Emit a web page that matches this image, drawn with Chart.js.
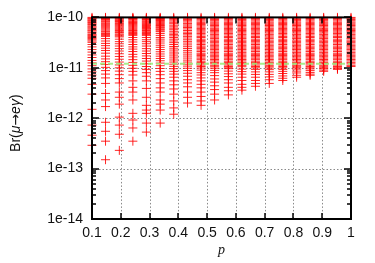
<!DOCTYPE html>
<html>
<head>
<meta charset="utf-8">
<script src="https://cdn.jsdelivr.net/npm/chart.js@4/dist/chart.umd.min.js"></script>
<style>
  html, body { margin: 0; background: #fff; }
  canvas { display: block; }
</style>
</head>
<body>
<canvas id="grafico-br" width="375" height="263"></canvas>
<script>
// valores de p (uma coluna de pontos por valor)
const pValues = [0.1, 0.147, 0.195, 0.242, 0.289, 0.337, 0.384, 0.432, 0.479, 0.526,
  0.574, 0.621, 0.668, 0.716, 0.763, 0.811, 0.858, 0.905, 0.953, 1.0];

const col01 = [1e-10, 9.6e-11, 9.3e-11, 8.9e-11, 8.6e-11, 8.2e-11, 7.9e-11, 7.5e-11, 7.2e-11, 6.8e-11, 6.5e-11, 6.2e-11, 5.9e-11, 5.6e-11, 5.4e-11, 5.1e-11, 4.9e-11, 4.6e-11, 4.4e-11, 4.2e-11, 4e-11, 3.8e-11, 3.6e-11, 3.4e-11, 3.2e-11, 2.9e-11, 2.6e-11, 2.3e-11, 2.05e-11, 1.8e-11, 1.6e-11, 1.4e-11, 1.25e-11, 1.1e-11, 9.5e-12, 8.3e-12, 7.2e-12, 6.2e-12, 4.7e-12, 3e-12, 1.5e-12, 7.3e-13, 4.6e-13, 2.9e-13];
const col02 = [1e-10, 9.7e-11, 9.5e-11, 9.1e-11, 8.8e-11, 8.4e-11, 8.1e-11, 7.7e-11, 7.4e-11, 7.1e-11, 6.8e-11, 6.5e-11, 6.2e-11, 5.9e-11, 5.6e-11, 5.3e-11, 5.1e-11, 4.8e-11, 4.6e-11, 4.4e-11, 4.2e-11, 3.8e-11, 3.4e-11, 3.05e-11, 2.75e-11, 2.45e-11, 2.2e-11, 1.95e-11, 1.7e-11, 1.5e-11, 1.32e-11, 1.16e-11, 1.02e-11, 8.8e-12, 7.5e-12, 6.3e-12, 4.9e-12, 3.1e-12, 2.3e-12, 1.7e-12, 8.3e-13, 5.5e-13, 3.5e-13, 1.5e-13];
const col03 = [1e-10, 9.7e-11, 9.4e-11, 9e-11, 8.7e-11, 8.3e-11, 8e-11, 7.6e-11, 7.3e-11, 7e-11, 6.7e-11, 6.4e-11, 6.1e-11, 5.8e-11, 5.5e-11, 5.2e-11, 5e-11, 4.7e-11, 4.5e-11, 4.3e-11, 4.1e-11, 3.7e-11, 3.3e-11, 3e-11, 2.7e-11, 2.4e-11, 2.15e-11, 1.9e-11, 1.68e-11, 1.48e-11, 1.3e-11, 1.14e-11, 1e-11, 8.6e-12, 7.3e-12, 6.1e-12, 5e-12, 3.3e-12, 2.6e-12, 1.9e-12, 1.05e-12, 7.3e-13, 4.8e-13, 2.3e-13];
const col04 = [1e-10, 9.7e-11, 9.5e-11, 9.2e-11, 8.9e-11, 8.5e-11, 8.2e-11, 7.9e-11, 7.6e-11, 7.3e-11, 7e-11, 6.7e-11, 6.4e-11, 6.1e-11, 5.8e-11, 5.5e-11, 5.3e-11, 5e-11, 4.8e-11, 4.6e-11, 4.4e-11, 4e-11, 3.6e-11, 3.25e-11, 2.9e-11, 2.6e-11, 2.35e-11, 2.1e-11, 1.85e-11, 1.65e-11, 1.45e-11, 1.28e-11, 1.12e-11, 9.8e-12, 8.5e-12, 7.2e-12, 5.5e-12, 4.1e-12, 3.3e-12, 2.3e-12, 1.25e-12, 9.2e-13, 6.4e-13, 3.5e-13];
const col05 = [1e-10, 9.7e-11, 9.4e-11, 9.1e-11, 8.8e-11, 8.4e-11, 8.1e-11, 7.8e-11, 7.5e-11, 7.2e-11, 6.9e-11, 6.6e-11, 6.3e-11, 6e-11, 5.8e-11, 5.5e-11, 5.3e-11, 5e-11, 4.8e-11, 4.6e-11, 4.4e-11, 4e-11, 3.6e-11, 3.3e-11, 3e-11, 2.7e-11, 2.4e-11, 2.15e-11, 1.92e-11, 1.72e-11, 1.53e-11, 1.36e-11, 1.2e-11, 1.06e-11, 9.3e-12, 8e-12, 6.8e-12, 5.5e-12, 3.9e-12, 2.6e-12, 1.8e-12, 1.45e-12, 1.25e-12, 8e-13, 5.3e-13];
const col06 = [1e-10, 9.7e-11, 9.5e-11, 9.2e-11, 9e-11, 8.7e-11, 8.4e-11, 8.1e-11, 7.8e-11, 7.5e-11, 7.2e-11, 6.9e-11, 6.7e-11, 6.4e-11, 6.2e-11, 5.9e-11, 5.7e-11, 5.4e-11, 5.2e-11, 4.8e-11, 4.4e-11, 4e-11, 3.7e-11, 3.4e-11, 3.1e-11, 2.8e-11, 2.55e-11, 2.3e-11, 2.08e-11, 1.88e-11, 1.7e-11, 1.53e-11, 1.38e-11, 1.24e-11, 1.1e-11, 9.7e-12, 8.5e-12, 7.3e-12, 6.1e-12, 5e-12, 4e-12, 3.3e-12, 2.3e-12, 1.9e-12, 1.45e-12, 8e-13];
const col07 = [1e-10, 9.5e-11, 9e-11, 8.5e-11, 8e-11, 7.5e-11, 7e-11, 6.5e-11, 6.1e-11, 5.7e-11, 5.3e-11, 4.9e-11, 4.6e-11, 4.3e-11, 4e-11, 3.7e-11, 3.4e-11, 3.15e-11, 2.9e-11, 2.65e-11, 2.45e-11, 2.25e-11, 2.05e-11, 1.88e-11, 1.72e-11, 1.57e-11, 1.43e-11, 1.3e-11, 1.18e-11, 1.07e-11, 9.6e-12, 8.5e-12, 7.5e-12, 6.5e-12, 5.5e-12, 4.6e-12, 3.8e-12, 3e-12, 2.2e-12, 1.6e-12, 1.2e-12];
const col08 = [1e-10, 9.6e-11, 9.1e-11, 8.6e-11, 8.1e-11, 7.6e-11, 7.1e-11, 6.7e-11, 6.3e-11, 5.9e-11, 5.5e-11, 5.1e-11, 4.8e-11, 4.5e-11, 4.2e-11, 3.9e-11, 3.6e-11, 3.35e-11, 3.1e-11, 2.85e-11, 2.62e-11, 2.42e-11, 2.22e-11, 2.04e-11, 1.87e-11, 1.71e-11, 1.56e-11, 1.42e-11, 1.3e-11, 1.18e-11, 1.08e-11, 9.8e-12, 8.8e-12, 7.8e-12, 6.8e-12, 5.8e-12, 5e-12, 4.2e-12, 3.3e-12, 2.6e-12, 2e-12];
const col09 = [1e-10, 9.5e-11, 9e-11, 8.5e-11, 8e-11, 7.6e-11, 7.2e-11, 6.8e-11, 6.4e-11, 6e-11, 5.7e-11, 5.4e-11, 5.1e-11, 4.8e-11, 4.5e-11, 4.2e-11, 4e-11, 3.7e-11, 3.5e-11, 3.3e-11, 3.1e-11, 2.9e-11, 2.7e-11, 2.55e-11, 2.4e-11, 2.25e-11, 2.1e-11, 1.95e-11, 1.85e-11, 1.75e-11, 1.65e-11, 1.55e-11, 1.45e-11, 1.35e-11, 1.27e-11, 1.2e-11, 1.13e-11, 1.06e-11, 9.9e-12, 9e-12, 8e-12, 7.2e-12, 6.3e-12, 5.5e-12, 4.7e-12, 4e-12, 3.3e-12, 2.7e-12, 2.2e-12, 1.8e-12];
const col10 = [1e-10, 9.6e-11, 9.1e-11, 8.6e-11, 8.1e-11, 7.7e-11, 7.3e-11, 6.9e-11, 6.5e-11, 6.1e-11, 5.8e-11, 5.5e-11, 5.2e-11, 4.9e-11, 4.6e-11, 4.3e-11, 4.05e-11, 3.8e-11, 3.55e-11, 3.35e-11, 3.15e-11, 2.95e-11, 2.75e-11, 2.6e-11, 2.45e-11, 2.3e-11, 2.15e-11, 2e-11, 1.88e-11, 1.77e-11, 1.66e-11, 1.56e-11, 1.46e-11, 1.37e-11, 1.28e-11, 1.2e-11, 1.12e-11, 1.05e-11, 9.8e-12, 8.9e-12, 8e-12, 7e-12, 6e-12, 5.2e-12, 4.4e-12, 3.7e-12, 3e-12, 2.3e-12];
const col11 = [1e-10, 9.5e-11, 9e-11, 8.5e-11, 8e-11, 7.6e-11, 7.2e-11, 6.8e-11, 6.4e-11, 6e-11, 5.7e-11, 5.4e-11, 5.1e-11, 4.8e-11, 4.5e-11, 4.2e-11, 4e-11, 3.7e-11, 3.5e-11, 3.3e-11, 3.1e-11, 2.9e-11, 2.7e-11, 2.55e-11, 2.4e-11, 2.25e-11, 2.1e-11, 1.95e-11, 1.85e-11, 1.75e-11, 1.65e-11, 1.55e-11, 1.45e-11, 1.35e-11, 1.27e-11, 1.2e-11, 1.13e-11, 1.06e-11, 1e-11, 9.6e-12, 8.6e-12, 7.6e-12, 6.7e-12, 5.8e-12, 5e-12, 4.1e-12, 3.5e-12, 2.9e-12];
const col12 = [1e-10, 9.6e-11, 9.1e-11, 8.6e-11, 8.1e-11, 7.7e-11, 7.3e-11, 6.9e-11, 6.5e-11, 6.1e-11, 5.8e-11, 5.5e-11, 5.2e-11, 4.9e-11, 4.6e-11, 4.3e-11, 4.05e-11, 3.8e-11, 3.55e-11, 3.35e-11, 3.15e-11, 2.95e-11, 2.75e-11, 2.6e-11, 2.45e-11, 2.3e-11, 2.15e-11, 2e-11, 1.88e-11, 1.77e-11, 1.66e-11, 1.56e-11, 1.46e-11, 1.37e-11, 1.28e-11, 1.2e-11, 1.12e-11, 1.05e-11, 9.4e-12, 8.4e-12, 7.5e-12, 6.5e-12, 5.6e-12, 4.7e-12, 4.1e-12, 3.6e-12];
const col13 = [1e-10, 9.5e-11, 9e-11, 8.5e-11, 8e-11, 7.6e-11, 7.2e-11, 6.8e-11, 6.4e-11, 6e-11, 5.7e-11, 5.4e-11, 5.1e-11, 4.8e-11, 4.5e-11, 4.2e-11, 4e-11, 3.7e-11, 3.5e-11, 3.3e-11, 3.1e-11, 2.9e-11, 2.7e-11, 2.55e-11, 2.4e-11, 2.25e-11, 2.1e-11, 1.95e-11, 1.85e-11, 1.75e-11, 1.65e-11, 1.55e-11, 1.45e-11, 1.35e-11, 1.27e-11, 1.2e-11, 1.13e-11, 1.06e-11, 1e-11, 9.3e-12, 8.3e-12, 7.4e-12, 6.5e-12, 5.6e-12, 4.9e-12, 4.3e-12];
const col14 = [1e-10, 9.6e-11, 9.1e-11, 8.6e-11, 8.1e-11, 7.7e-11, 7.3e-11, 6.9e-11, 6.5e-11, 6.1e-11, 5.8e-11, 5.5e-11, 5.2e-11, 4.9e-11, 4.6e-11, 4.3e-11, 4.05e-11, 3.8e-11, 3.55e-11, 3.35e-11, 3.15e-11, 2.95e-11, 2.75e-11, 2.6e-11, 2.45e-11, 2.3e-11, 2.15e-11, 2e-11, 1.88e-11, 1.77e-11, 1.66e-11, 1.56e-11, 1.46e-11, 1.37e-11, 1.28e-11, 1.2e-11, 1.12e-11, 1.05e-11, 9.9e-12, 9.2e-12, 8.3e-12, 7.4e-12, 6.6e-12, 5.8e-12, 4.9e-12];
const col15 = [1e-10, 9.5e-11, 9e-11, 8.5e-11, 8e-11, 7.6e-11, 7.2e-11, 6.8e-11, 6.4e-11, 6e-11, 5.7e-11, 5.4e-11, 5.1e-11, 4.8e-11, 4.5e-11, 4.2e-11, 4e-11, 3.7e-11, 3.5e-11, 3.3e-11, 3.1e-11, 2.9e-11, 2.7e-11, 2.55e-11, 2.4e-11, 2.25e-11, 2.1e-11, 1.95e-11, 1.85e-11, 1.75e-11, 1.65e-11, 1.55e-11, 1.45e-11, 1.35e-11, 1.27e-11, 1.2e-11, 1.13e-11, 1.06e-11, 1e-11, 9.3e-12, 8.5e-12, 7.7e-12, 6.9e-12, 6.2e-12, 5.6e-12];
const col16 = [1e-10, 9.6e-11, 9.1e-11, 8.6e-11, 8.1e-11, 7.7e-11, 7.3e-11, 6.9e-11, 6.5e-11, 6.1e-11, 5.8e-11, 5.5e-11, 5.2e-11, 4.9e-11, 4.6e-11, 4.3e-11, 4.05e-11, 3.8e-11, 3.55e-11, 3.35e-11, 3.15e-11, 2.95e-11, 2.75e-11, 2.6e-11, 2.45e-11, 2.3e-11, 2.15e-11, 2e-11, 1.88e-11, 1.77e-11, 1.66e-11, 1.56e-11, 1.46e-11, 1.37e-11, 1.28e-11, 1.2e-11, 1.12e-11, 1.05e-11, 1e-11, 9.4e-12, 8.6e-12, 7.9e-12, 7.1e-12, 6.5e-12];
const col17 = [1e-10, 9.5e-11, 9e-11, 8.5e-11, 8e-11, 7.6e-11, 7.2e-11, 6.8e-11, 6.4e-11, 6e-11, 5.7e-11, 5.4e-11, 5.1e-11, 4.8e-11, 4.5e-11, 4.2e-11, 4e-11, 3.7e-11, 3.5e-11, 3.3e-11, 3.1e-11, 2.9e-11, 2.7e-11, 2.55e-11, 2.4e-11, 2.25e-11, 2.1e-11, 1.95e-11, 1.85e-11, 1.75e-11, 1.65e-11, 1.55e-11, 1.45e-11, 1.35e-11, 1.27e-11, 1.2e-11, 1.13e-11, 1.06e-11, 1e-11, 9.5e-12, 8.8e-12, 8.1e-12, 7.5e-12, 7.1e-12];
const col18 = [1e-10, 9.6e-11, 9.1e-11, 8.6e-11, 8.1e-11, 7.7e-11, 7.3e-11, 6.9e-11, 6.5e-11, 6.1e-11, 5.8e-11, 5.5e-11, 5.2e-11, 4.9e-11, 4.6e-11, 4.3e-11, 4.05e-11, 3.8e-11, 3.55e-11, 3.35e-11, 3.15e-11, 2.95e-11, 2.75e-11, 2.6e-11, 2.45e-11, 2.3e-11, 2.15e-11, 2e-11, 1.88e-11, 1.77e-11, 1.66e-11, 1.56e-11, 1.46e-11, 1.37e-11, 1.28e-11, 1.2e-11, 1.12e-11, 1.05e-11, 1e-11, 9.6e-12, 9e-12, 8.5e-12];
const col19 = [1e-10, 9.5e-11, 9e-11, 8.5e-11, 8e-11, 7.6e-11, 7.2e-11, 6.8e-11, 6.4e-11, 6e-11, 5.7e-11, 5.4e-11, 5.1e-11, 4.8e-11, 4.5e-11, 4.2e-11, 4e-11, 3.7e-11, 3.5e-11, 3.3e-11, 3.1e-11, 2.9e-11, 2.7e-11, 2.55e-11, 2.4e-11, 2.25e-11, 2.1e-11, 1.95e-11, 1.85e-11, 1.75e-11, 1.65e-11, 1.55e-11, 1.45e-11, 1.35e-11, 1.27e-11, 1.2e-11, 1.13e-11, 1.06e-11, 1e-11, 9.8e-12, 9.3e-12];
const col20 = [1e-10, 9.6e-11, 9.1e-11, 8.6e-11, 8.1e-11, 7.7e-11, 7.3e-11, 6.9e-11, 6.5e-11, 6.1e-11, 5.8e-11, 5.5e-11, 5.2e-11, 4.9e-11, 4.6e-11, 4.3e-11, 4.05e-11, 3.8e-11, 3.55e-11, 3.35e-11, 3.15e-11, 2.95e-11, 2.75e-11, 2.6e-11, 2.45e-11, 2.3e-11, 2.15e-11, 2e-11, 1.88e-11, 1.77e-11, 1.66e-11, 1.56e-11, 1.46e-11, 1.37e-11, 1.28e-11, 1.2e-11, 1.12e-11, 1.06e-11];

const colunas = [col01, col02, col03, col04, col05, col06, col07, col08, col09, col10,
  col11, col12, col13, col14, col15, col16, col17, col18, col19, col20];

// limite experimental (linha verde tracejada)
const limiteBr = 1.2e-11;
const limiteX = [0.1, 1.0];

// eixos
const xTicks = [0.1, 0.2, 0.3, 0.4, 0.5, 0.6, 0.7, 0.8, 0.9, 1.0];
const xTickLabels = ['0.1', '0.2', '0.3', '0.4', '0.5', '0.6', '0.7', '0.8', '0.9', '1'];
const yTicks = [1e-14, 1e-13, 1e-12, 1e-11, 1e-10];
const yTickLabels = ['1e-14', '1e-13', '1e-12', '1e-11', '1e-10'];
const yMinor = [2, 3, 4, 5, 6, 7, 8, 9];

const fonteSans = '"Liberation Sans", Arial, sans-serif';

const pontos = [];
colunas.forEach((col, i) => {
  col.forEach(v => pontos.push({ x: pValues[i], y: v }));
});

// grade pontilhada por baixo dos pontos
const gradePlugin = {
  id: 'grade',
  beforeDatasetsDraw(chart) {
    const { ctx, chartArea: a, scales: { x, y } } = chart;
    ctx.save();
    ctx.strokeStyle = '#8a8a8a';
    ctx.lineWidth = 1;
    ctx.setLineDash([1.5, 2]);
    xTicks.slice(1, -1).forEach(v => {
      const px = Math.round(x.getPixelForValue(v)) + 0.5;
      ctx.beginPath(); ctx.moveTo(px, a.top); ctx.lineTo(px, a.bottom); ctx.stroke();
    });
    yTicks.slice(1, -1).forEach(v => {
      const py = Math.round(y.getPixelForValue(v)) + 0.5;
      ctx.beginPath(); ctx.moveTo(a.left, py); ctx.lineTo(a.right, py); ctx.stroke();
    });
    ctx.restore();
  }
};

// moldura, marcas para dentro e titulo do eixo y
const molduraPlugin = {
  id: 'moldura',
  afterDraw(chart) {
    const { ctx, chartArea: a, scales: { x, y } } = chart;
    ctx.save();
    ctx.strokeStyle = '#000';
    ctx.lineWidth = 2;
    ctx.strokeRect(a.left, a.top, a.right - a.left, a.bottom - a.top);

    ctx.lineWidth = 1.5;
    const linha = (x1, y1, x2, y2) => {
      ctx.beginPath(); ctx.moveTo(x1, y1); ctx.lineTo(x2, y2); ctx.stroke();
    };
    xTicks.forEach(v => {
      const px = Math.round(x.getPixelForValue(v));
      linha(px, a.bottom, px, a.bottom - 6);
      linha(px, a.top, px, a.top + 6);
    });
    yTicks.forEach((v, i) => {
      const py = Math.round(y.getPixelForValue(v));
      linha(a.left, py, a.left + 7, py);
      linha(a.right, py, a.right - 7, py);
      if (i === yTicks.length - 1) return;
      yMinor.forEach(m => {
        const pm = Math.round(y.getPixelForValue(v * m));
        linha(a.left, pm, a.left + 4, pm);
        linha(a.right, pm, a.right - 4, pm);
      });
    });

    // Br(mu -> e gamma) com letras gregas em italico
    const partes = [
      ['Br(', 'normal 14px ' + fonteSans],
      ['μ', 'italic 14px ' + fonteSans],
      ['→', 'normal 14px "DejaVu Sans", sans-serif'],
      ['eγ', 'italic 14px ' + fonteSans],
      [')', 'normal 14px ' + fonteSans]
    ];
    let total = 0;
    partes.forEach(([t, f]) => { ctx.font = f; total += ctx.measureText(t).width; });
    ctx.translate(16, (a.top + a.bottom) / 2 + 5);
    ctx.rotate(-Math.PI / 2);
    ctx.fillStyle = '#111';
    ctx.textBaseline = 'middle';
    let cx = -total / 2;
    partes.forEach(([t, f]) => {
      ctx.font = f;
      ctx.fillText(t, cx, 0);
      cx += ctx.measureText(t).width;
    });
    ctx.restore();
  }
};

new Chart(document.getElementById('grafico-br'), {
  type: 'scatter',
  data: {
    datasets: [
      {
        type: 'line',
        data: limiteX.map(v => ({ x: v, y: limiteBr })),
        borderColor: 'rgba(150, 235, 120, 0.85)',
        borderWidth: 2,
        borderDash: [5, 3],
        pointRadius: 0,
        clip: false
      },
      {
        data: pontos,
        pointStyle: 'cross',
        pointRadius: 4.5,
        borderColor: 'rgba(255, 0, 0, 0.85)',
        borderWidth: 1,
        clip: false
      }
    ]
  },
  options: {
    responsive: false,
    animation: false,
    devicePixelRatio: 1,
    layout: { padding: { top: 17, right: 24, left: 0, bottom: 0 } },
    plugins: { legend: { display: false }, tooltip: { enabled: false } },
    scales: {
      x: {
        type: 'linear',
        min: 0.1,
        max: 1.0,
        grid: { display: false, drawTicks: false },
        border: { display: false },
        afterBuildTicks: s => { s.ticks = xTicks.map(v => ({ value: v })); },
        afterFit: s => { s.height = 44; },
        ticks: {
          padding: 6,
          maxRotation: 0,
          color: '#111',
          font: { family: fonteSans, size: 14 },
          callback: (v, i) => xTickLabels[i]
        },
        title: {
          display: true,
          text: 'p',
          color: '#111',
          padding: { top: 0, bottom: 4 },
          font: { family: '"Liberation Serif", "DejaVu Serif", serif', style: 'italic', size: 14 }
        }
      },
      y: {
        type: 'logarithmic',
        min: 1e-14,
        max: 1e-10,
        grid: { display: false, drawTicks: false },
        border: { display: false },
        afterBuildTicks: s => { s.ticks = yTicks.map(v => ({ value: v })); },
        afterFit: s => { s.width = 92; },
        ticks: {
          padding: 9,
          color: '#111',
          font: { family: fonteSans, size: 14 },
          callback: (v, i) => yTickLabels[i]
        }
      }
    }
  },
  plugins: [gradePlugin, molduraPlugin]
});
</script>
</body>
</html>
